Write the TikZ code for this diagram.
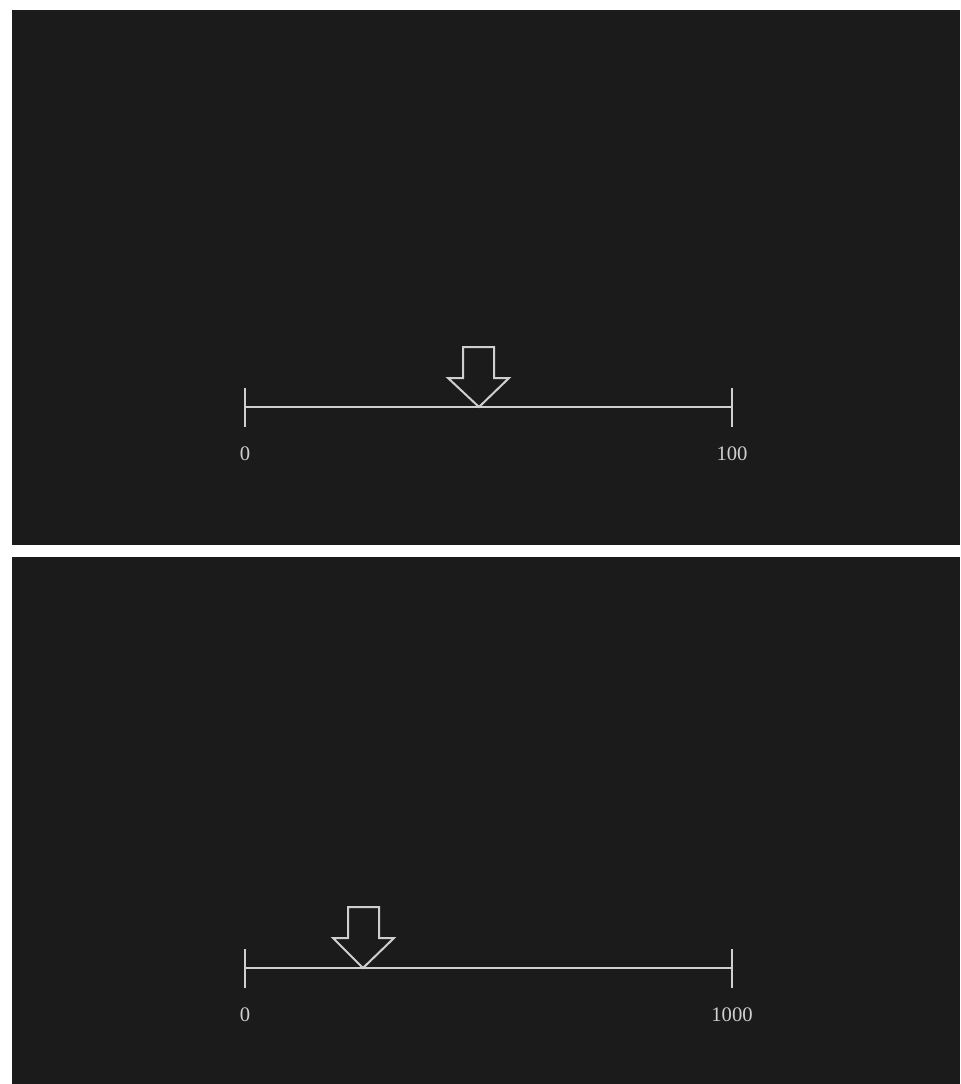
\documentclass[tikz,border=0pt]{standalone}
\usepackage{fontspec}
\setmainfont{Liberation Serif}
\definecolor{panelbg}{HTML}{1B1B1B}
\definecolor{ink}{HTML}{CFCFCF}
\begin{document}
\begin{tikzpicture}[x=0.75pt,y=-0.75pt,
  panel/.style={fill=panelbg,draw=none},
  axis/.style={draw=ink,line width=1.5pt},
  pointer/.style={draw=ink,line width=1.5pt,line join=miter},
  lbl/.style={text=ink,font=\fontsize{15.5}{18}\selectfont,inner sep=0pt}]
\useasboundingbox[fill=white] (0,0) rectangle (960,1084);
% panels
\path[panel] (12,10) rectangle (960,545);
\path[panel] (12,557) rectangle (960,1084);
% top scale
\coordinate (a0) at (245,407);
\coordinate (a1) at (732,407);
\draw[axis] (a0) -- (a1);
\draw[axis] (245,388) -- (245,427);
\draw[axis] (732,388) -- (732,427);
\node[lbl] (l0) at (245,454) {0};
\node[lbl] (l1) at (732,454) {100};
\draw[pointer] (479,407) -- (509,378) -- (494,378) -- (494,347) -- (463,347) -- (463,378) -- (448,378) -- cycle;
% bottom scale
\coordinate (b0) at (245,968);
\coordinate (b1) at (732,968);
\draw[axis] (b0) -- (b1);
\draw[axis] (245,949) -- (245,988);
\draw[axis] (732,949) -- (732,988);
\node[lbl] (m0) at (245,1015) {0};
\node[lbl] (m1) at (732,1015) {1000};
\draw[pointer] (363,968) -- (394,938) -- (379,938) -- (379,907) -- (348,907) -- (348,938) -- (333,938) -- cycle;
\end{tikzpicture}
\end{document}
